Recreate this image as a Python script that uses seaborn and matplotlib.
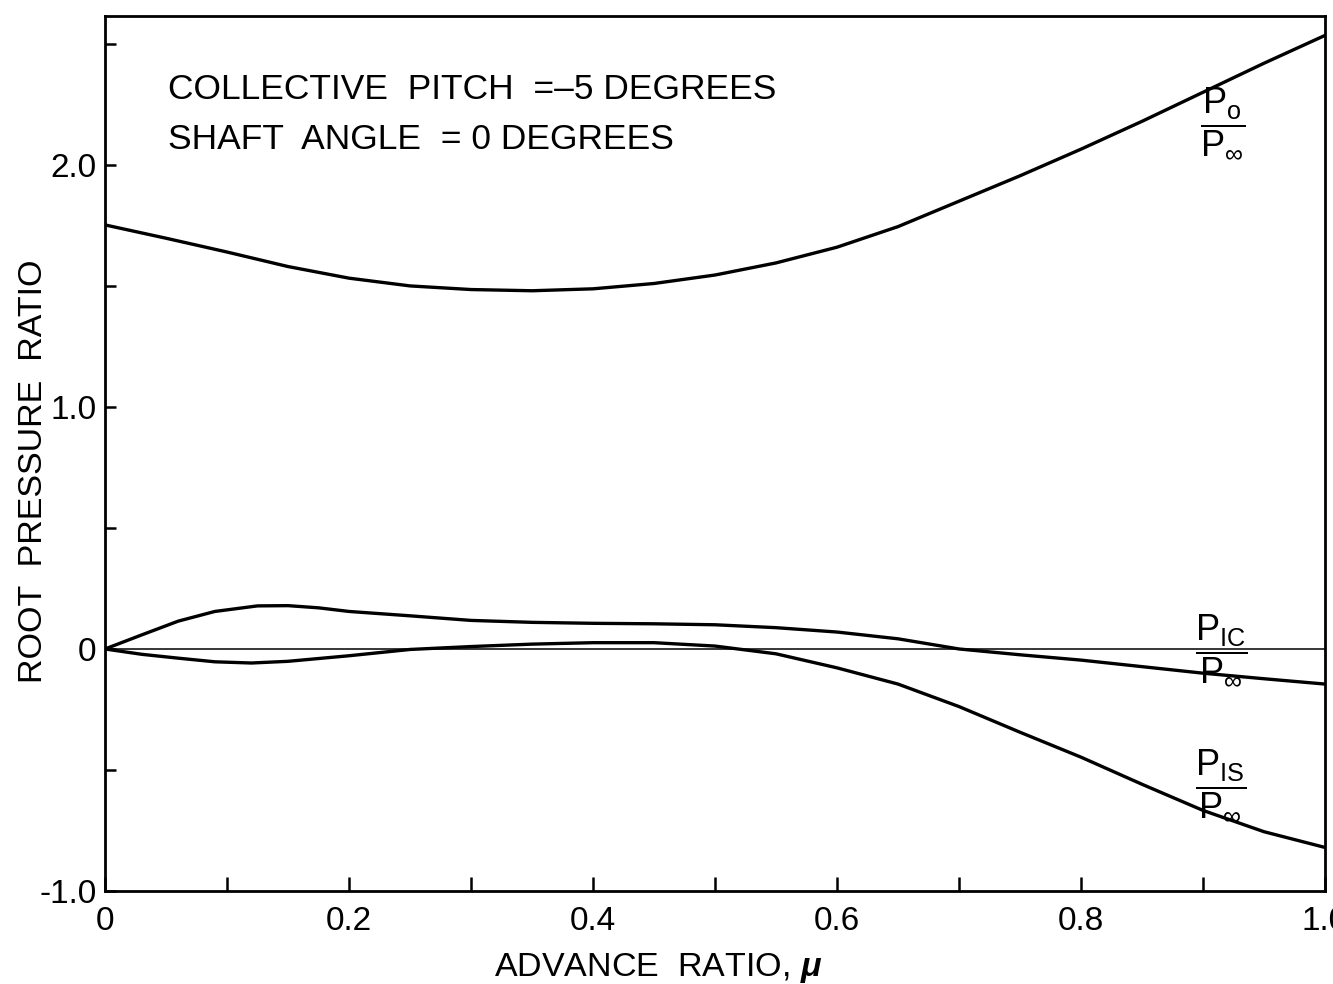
import numpy as np
import pandas as pd
import matplotlib
matplotlib.use("Agg")
import matplotlib.pyplot as plt
from matplotlib.ticker import MultipleLocator, FixedLocator, FixedFormatter
import seaborn as sns

# Advance ratio stations and root pressure ratios
mu_p0 = [0.00, 0.05, 0.10, 0.15, 0.20, 0.25, 0.30, 0.35, 0.40, 0.45, 0.50,
         0.55, 0.60, 0.65, 0.70, 0.75, 0.80, 0.85, 0.90, 0.95, 1.00]
p0 = [1.752, 1.697, 1.64, 1.58, 1.532, 1.50, 1.485, 1.48, 1.488, 1.51, 1.545,
      1.595, 1.66, 1.745, 1.85, 1.955, 2.065, 2.18, 2.30, 2.42, 2.535]

mu_p1c = [0.00, 0.03, 0.06, 0.09, 0.125, 0.15, 0.175, 0.20, 0.25, 0.30, 0.35,
          0.40, 0.45, 0.50, 0.55, 0.60, 0.65, 0.70, 0.75, 0.80, 0.85, 0.90,
          0.95, 1.00]
p1c = [0.0, 0.058, 0.115, 0.155, 0.178, 0.179, 0.17, 0.155, 0.137, 0.118,
       0.110, 0.106, 0.104, 0.100, 0.088, 0.07, 0.042, 0.0, -0.024, -0.046,
       -0.073, -0.10, -0.123, -0.145]

mu_p1s = [0.00, 0.03, 0.06, 0.09, 0.12, 0.15, 0.20, 0.25, 0.30, 0.35, 0.40,
          0.45, 0.50, 0.55, 0.60, 0.65, 0.70, 0.75, 0.80, 0.85, 0.90, 0.95,
          1.00]
p1s = [0.0, -0.022, -0.038, -0.053, -0.058, -0.051, -0.028, -0.002, 0.01,
       0.02, 0.026, 0.026, 0.012, -0.02, -0.078, -0.145, -0.238, -0.344,
       -0.447, -0.559, -0.667, -0.755, -0.82]

x_tick_values = [0.0, 0.2, 0.4, 0.6, 0.8, 1.0]
x_tick_labels = ["0", "0.2", "0.4", "0.6", "0.8", "1.0"]
y_tick_values = [-1.0, 0.0, 1.0, 2.0]
y_tick_labels = ["-1.0", "0", "1.0", "2.0"]

note_lines = ["COLLECTIVE  PITCH  =\u20135 DEGREES",
              "SHAFT  ANGLE  = 0 DEGREES"]

sns.set_theme(style="ticks")
plt.rcParams["font.family"] = ["Liberation Sans", "DejaVu Sans"]
plt.rcParams["mathtext.fontset"] = "custom"
plt.rcParams["mathtext.rm"] = "Liberation Sans"
plt.rcParams["mathtext.it"] = "Liberation Sans:italic"
plt.rcParams["mathtext.bf"] = "Liberation Sans:bold:italic"

fig = plt.figure(figsize=(13.33, 9.84), dpi=100)
ax = fig.add_axes([0.0788, 0.0945, 0.9152, 0.8892])

# zero reference line
ax.axhline(0.0, color="black", lw=1.1, zorder=1)

line_kw = dict(color="black", lw=2.4, ax=ax, legend=False)
sns.lineplot(x=mu_p0, y=p0, **line_kw)
sns.lineplot(x=mu_p1c, y=p1c, **line_kw)
sns.lineplot(x=mu_p1s, y=p1s, **line_kw)

ax.set_xlim(0.0, 1.0)
ax.set_ylim(-1.0, 2.615)

ax.xaxis.set_major_locator(FixedLocator(x_tick_values))
ax.xaxis.set_major_formatter(FixedFormatter(x_tick_labels))
ax.xaxis.set_minor_locator(MultipleLocator(0.1))
ax.yaxis.set_major_locator(FixedLocator(y_tick_values))
ax.yaxis.set_major_formatter(FixedFormatter(y_tick_labels))
ax.yaxis.set_minor_locator(MultipleLocator(0.5))

ax.tick_params(axis="both", which="both", direction="in", color="black",
               width=1.8, labelsize=24, labelcolor="black")
ax.tick_params(axis="x", which="both", length=10, pad=11)
ax.tick_params(axis="y", which="both", length=8, pad=6)

for sp in ax.spines.values():
    sp.set_visible(True)
    sp.set_color("black")
    sp.set_linewidth(2.0)

ax.set_xlabel("ADVANCE  RATIO, $\\mathbf{\\mu}$", fontsize=24.5, color="black")
ax.set_ylabel("ROOT  PRESSURE  RATIO", fontsize=24.5, color="black")
ax.xaxis.set_label_coords(0.453, -0.069)
ax.yaxis.set_label_coords(-0.046, 0.48)

for i, line in enumerate(note_lines):
    ax.text(0.0516, 2.273 - i * 0.207, line, fontsize=25.5, color="black",
            ha="left", va="baseline")

frac_kw = dict(fontsize=26, color="black", ha="center", va="center")
ax.text(0.9164, 2.175, r"$\dfrac{\mathrm{P}_{\mathrm{o}}}{\mathrm{P}_{\infty}}$", **frac_kw)
ax.text(0.9148, -0.005, r"$\dfrac{\mathrm{P}_{\mathrm{IC}}}{\mathrm{P}_{\infty}}$", **frac_kw)
ax.text(0.9148, -0.56, r"$\dfrac{\mathrm{P}_{\mathrm{IS}}}{\mathrm{P}_{\infty}}$", **frac_kw)

fig.savefig("out.png", dpi=100, facecolor="white")
